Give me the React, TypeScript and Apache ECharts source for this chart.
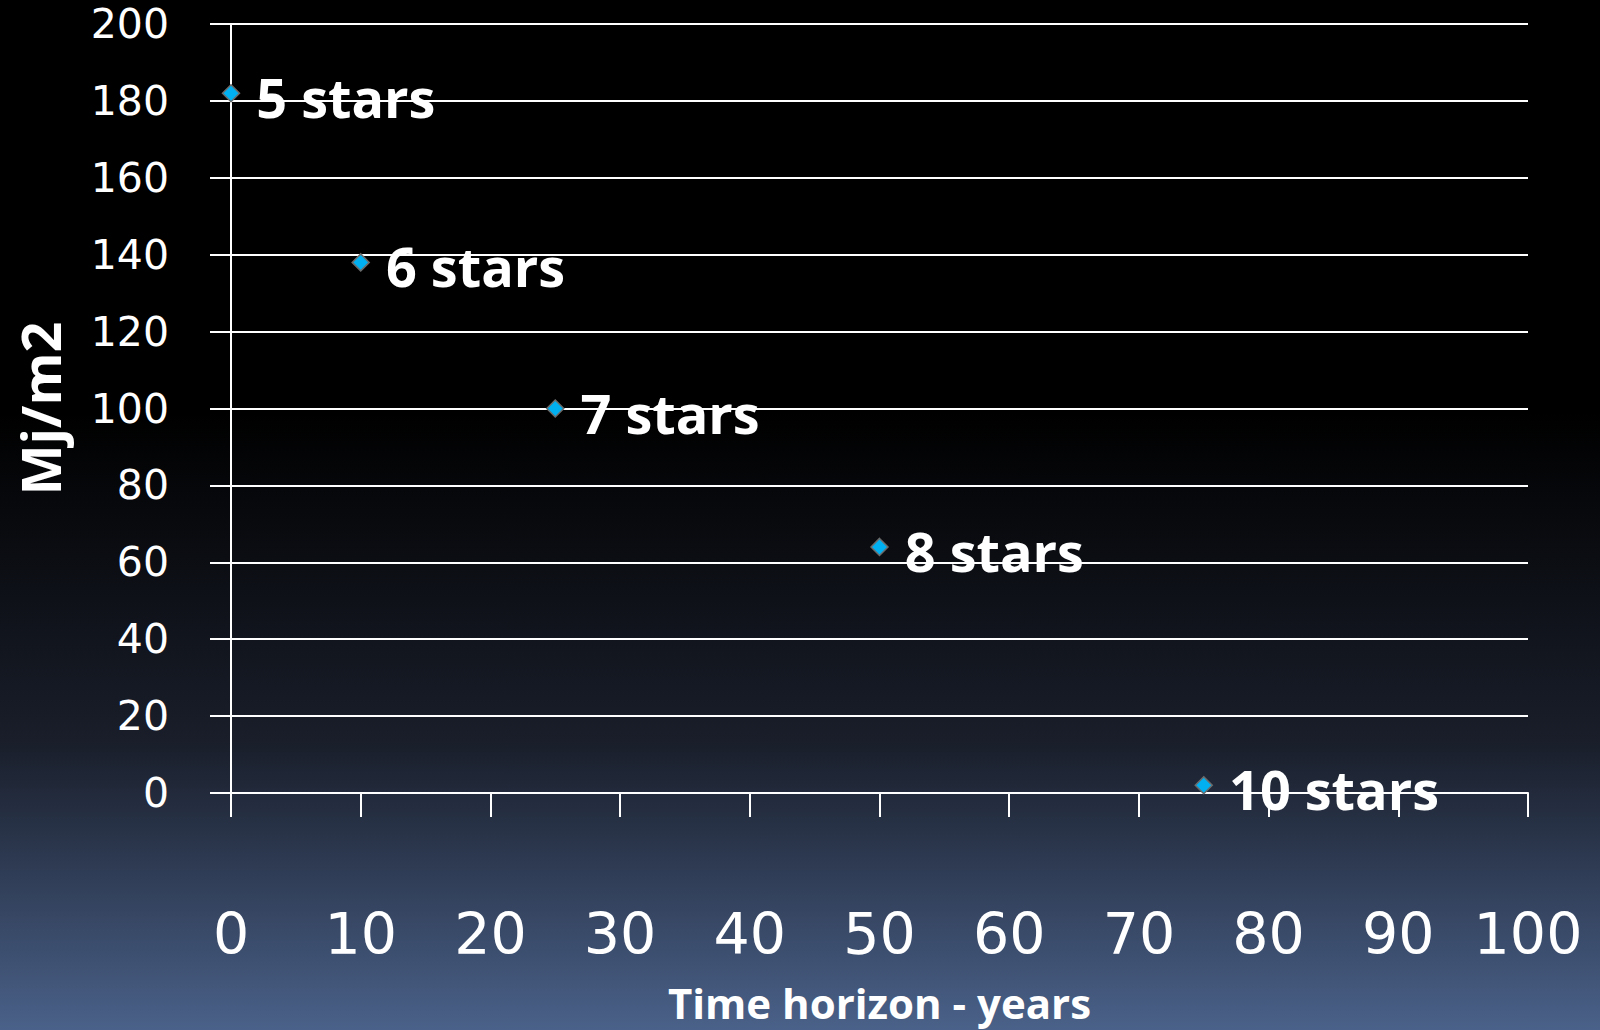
import React, { useEffect, useRef } from "react";
import * as echarts from "echarts";

const years = [0, 10, 25, 50, 75];
const energy = [182, 138, 100, 64, 2];
const starLabels = ["5 stars", "6 stars", "7 stars", "8 stars", "10 stars"];
const xTicks = [0, 10, 20, 30, 40, 50, 60, 70, 80, 90, 100];
const yTicks = [0, 20, 40, 60, 80, 100, 120, 140, 160, 180, 200];

export default function App() {
  const ref = useRef<HTMLDivElement>(null);
  useEffect(() => {
    document.body.style.margin = "0";
    const chart = echarts.init(ref.current!, null, { renderer: "svg" });
    const white = "#ffffff";
    chart.setOption({
      animation: false,
      backgroundColor: new echarts.graphic.LinearGradient(0, 0, 0, 1, [
        { offset: 0, color: "#000000" },
        { offset: 0.4, color: "#000000" },
        { offset: 0.72, color: "#191e2a" },
        { offset: 1, color: "#4a6189" },
      ]),
      grid: { left: 231, right: 72, top: 24, bottom: 237 },
      xAxis: {
        type: "value",
        min: xTicks[0],
        max: xTicks[xTicks.length - 1],
        interval: 10,
        name: "Time horizon - years",
        nameLocation: "middle",
        nameGap: 188,
        nameTextStyle: { color: white, fontFamily: "Open Sans", fontWeight: "bold", fontSize: 42, lineHeight: 42 },
        axisLine: { lineStyle: { color: white, width: 2 } },
        axisTick: { show: true, length: 24, lineStyle: { color: white, width: 2 } },
        splitLine: { show: false },
        axisLabel: { color: white, fontFamily: "DejaVu Sans", fontSize: 57, margin: 112 },
      },
      yAxis: {
        type: "value",
        min: yTicks[0],
        max: yTicks[yTicks.length - 1],
        interval: 20,
        name: "Mj/m2",
        nameLocation: "middle",
        nameRotate: 90,
        nameGap: 164,
        nameTextStyle: { color: white, fontFamily: "Open Sans", fontWeight: "bold", fontSize: 54 },
        axisLine: { show: true, lineStyle: { color: white, width: 2 } },
        axisTick: { show: true, length: 21, lineStyle: { color: white, width: 2 } },
        splitLine: { show: true, lineStyle: { color: white, width: 2 } },
        axisLabel: { color: white, fontFamily: "DejaVu Sans", fontSize: 41, lineHeight: 41, margin: 62 },
      },
      series: [
        {
          type: "scatter",
          symbol: "diamond",
          symbolSize: 17,
          data: years.map((x, i) => [x, energy[i]]),
          itemStyle: { color: "#00b0f0", borderColor: "#6b6b6b", borderWidth: 1.5, opacity: 1 },
          label: {
            show: true,
            position: "right",
            distance: 16,
            offset: [0, 4],
            formatter: (p: any) => starLabels[p.dataIndex],
            color: white,
            opacity: 1,
            fontFamily: "Open Sans",
            fontWeight: "bold",
            fontSize: 54,
          },
        },
      ],
    });
    return () => chart.dispose();
  }, []);
  return <div ref={ref} style={{ position: "fixed", left: 0, top: 0, width: 1600, height: 1030 }} />;
}
